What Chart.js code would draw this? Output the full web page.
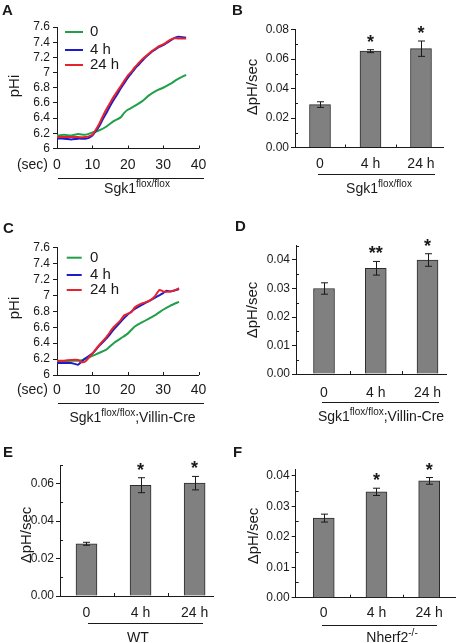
<!DOCTYPE html>
<html>
<head>
<meta charset="utf-8">
<script src="https://cdn.jsdelivr.net/npm/chart.js@4"></script>
<style>
  body { margin: 0; background: #fff; }
  #fig { position: relative; width: 458px; height: 643px; overflow: hidden; }
  .panel { position: absolute; }
</style>
</head>
<body>
<div id="fig">
  <div class="panel" style="left:0;top:0;width:229px;height:210px"><canvas id="cA"></canvas></div>
  <div class="panel" style="left:229px;top:0;width:229px;height:210px"><canvas id="cB"></canvas></div>
  <div class="panel" style="left:0;top:210px;width:229px;height:220px"><canvas id="cC"></canvas></div>
  <div class="panel" style="left:229px;top:210px;width:229px;height:220px"><canvas id="cD"></canvas></div>
  <div class="panel" style="left:0;top:430px;width:229px;height:213px"><canvas id="cE"></canvas></div>
  <div class="panel" style="left:229px;top:430px;width:229px;height:213px"><canvas id="cF"></canvas></div>
</div>
<script>
// datos de las curvas de pHi (tiempo en seg, pH)
const lineSeries = ['0', '4 h', '24 h'];
const lineColors = ['#1fa049', '#1c1ccc', '#e6232b'];

// A: Sgk1 flox/flox
const aTime0 = [0, 2, 4, 6, 8, 10, 12, 14, 16, 18, 19, 20, 22, 24, 26, 28, 30, 32, 34, 36.5];
const aPh0 = [6.17, 6.18, 6.17, 6.19, 6.18, 6.21, 6.24, 6.29, 6.36, 6.41, 6.47, 6.51, 6.56, 6.62, 6.70, 6.76, 6.80, 6.85, 6.91, 6.97];
const aTime = [0, 2, 4, 6, 8, 9, 10, 11, 12, 13, 14, 15, 16, 17, 18, 19, 20, 21, 22, 23, 24, 25, 26, 27, 28, 29, 30, 31, 32, 33, 34, 35, 36.5];
const aPh4 = [6.13, 6.13, 6.12, 6.13, 6.13, 6.14, 6.17, 6.23, 6.30, 6.39, 6.47, 6.56, 6.64, 6.71, 6.79, 6.86, 6.93, 6.99, 7.05, 7.10, 7.15, 7.20, 7.24, 7.28, 7.31, 7.34, 7.36, 7.39, 7.42, 7.45, 7.47, 7.47, 7.46];
const aPh24 = [6.15, 6.15, 6.15, 6.15, 6.15, 6.16, 6.18, 6.25, 6.33, 6.43, 6.52, 6.60, 6.68, 6.75, 6.82, 6.89, 6.96, 7.01, 7.07, 7.12, 7.17, 7.21, 7.25, 7.29, 7.32, 7.35, 7.37, 7.40, 7.43, 7.45, 7.45, 7.45, 7.45];

// C: Sgk1 flox/flox;Villin-Cre
const cTime0 = [0, 2, 4, 6, 8, 10, 12, 14, 16, 18, 20, 22, 24, 26, 28, 30, 32, 34.5];
const cPh0 = [6.17, 6.17, 6.18, 6.18, 6.20, 6.24, 6.28, 6.32, 6.40, 6.46, 6.52, 6.61, 6.66, 6.71, 6.76, 6.82, 6.87, 6.92];
const cTime4 = [0, 2, 4, 5, 6, 7, 8, 10, 12, 14, 16, 18, 20, 22, 24, 26, 28, 30, 31, 32, 33, 34.5];
const cPh4 = [6.15, 6.15, 6.15, 6.14, 6.13, 6.17, 6.21, 6.27, 6.37, 6.46, 6.57, 6.67, 6.76, 6.83, 6.88, 6.93, 6.98, 7.03, 7.06, 7.05, 7.06, 7.08];
const cTime24 = [0, 2, 4, 6, 7, 8, 9, 10, 12, 14, 16, 18, 19, 20, 21, 22, 24, 26, 27.5, 29, 30, 32, 33, 34.5];
const cPh24 = [6.18, 6.18, 6.19, 6.19, 6.16, 6.17, 6.22, 6.27, 6.38, 6.48, 6.60, 6.69, 6.75, 6.77, 6.79, 6.85, 6.90, 6.93, 6.98, 7.07, 7.05, 7.05, 7.06, 7.09];

const secTicks = [0, 10, 20, 30, 40];
const phTicks = [6, 6.2, 6.4, 6.6, 6.8, 7, 7.2, 7.4, 7.6];

// datos de barras (ΔpH/sec, media y error)
const barCats = ['0', '4 h', '24 h'];
const bMeans = [0.0291, 0.0653, 0.0670];
const bErr = [0.0019, 0.0010, 0.0052];
const bStars = ['', '*', '*'];
const dMeans = [0.0300, 0.0371, 0.0400];
const dErr = [0.0020, 0.0024, 0.0022];
const dStars = ['', '**', '*'];
const eMeans = [0.0279, 0.0592, 0.0603];
const eErr = [0.0008, 0.0040, 0.0036];
const eStars = ['', '*', '*'];
const fMeans = [0.0261, 0.0347, 0.0383];
const fErr = [0.0013, 0.0012, 0.0011];
const fStars = ['', '*', '*'];

const ink = '#1a1a1a';
const fam = '"Liberation Sans", Arial, Helvetica, sans-serif';
Chart.defaults.font.family = fam;
Chart.defaults.color = ink;
Chart.defaults.animation = false;

// Decoración de cada panel: letra, títulos, subrayado, leyenda, barras de error.
const panelDeco = {
  cA: { letter: 'A', letterAt: [2, 15], yTitle: 'pHi', yTitleAt: [15, 86], secAt: [48, 165],
        underline: [58, 204, 177.5], group: [['Sgk1', 0], ['flox/flox', 1]], groupAt: [137, 193],
        legend: { x1: 65, x2: 83, tx: 90, rows: [32, 50, 65] } },
  cC: { letter: 'C', letterAt: [3, 23], yTitle: 'pHi', yTitleAt: [15, 98], secAt: [48, 180],
        underline: [58, 204, 192.7], group: [['Sgk1', 0], ['flox/flox', 1], [';Villin-Cre', 0]], groupAt: [132.5, 211.5],
        legend: { x1: 66.7, x2: 81.7, tx: 90, rows: [47.7, 65, 80] } },
  cB: { letter: 'B', letterAt: [3, 15], yTitle: 'ΔpH/sec', yTitleAt: [24, 87],
        underline: [89, 206, 174.3], group: [['Sgk1', 0], ['flox/flox', 1]], groupAt: [150, 193],
        minorStep: 0.01, errs: bErr, stars: bStars },
  cD: { letter: 'D', letterAt: [6, 21], yTitle: 'ΔpH/sec', yTitleAt: [24, 100],
        underline: [93, 210, 192.3], group: [['Sgk1', 0], ['flox/flox', 1], [';Villin-Cre', 0]], groupAt: [152, 210.7],
        minorStep: 0.005, errs: dErr, stars: dStars },
  cE: { letter: 'E', letterAt: [3, 27], yTitle: 'ΔpH/sec', yTitleAt: [27, 105],
        underline: [88, 203, 193.3], group: [['WT', 0]], groupAt: [138, 211.5],
        minorStep: 0.01, errs: eErr, stars: eStars },
  cF: { letter: 'F', letterAt: [4, 27], yTitle: 'ΔpH/sec', yTitleAt: [25, 106],
        underline: [93, 208, 195], group: [['Nherf2', 0], ['-/-', 1]], groupAt: [163, 212],
        minorStep: 0.005, errs: fErr, stars: fStars }
};

const decoPlugin = {
  id: 'deco',
  afterDraw(chart) {
    const o = panelDeco[chart.canvas.id];
    if (!o) return;
    const ctx = chart.ctx, area = chart.chartArea;
    const xs = chart.scales.x, ys = chart.scales.y;
    ctx.save();
    ctx.fillStyle = ink;
    ctx.strokeStyle = ink;
    ctx.lineWidth = 1;

    // marcas interiores del eje x y marcas menores del eje y
    ctx.beginPath();
    const inMarks = o.errs ? [0.5, 1.5] : xs.ticks.map(t => t.value);
    inMarks.forEach(v => {
      const px = Math.round(xs.getPixelForValue(v)) + 0.5;
      ctx.moveTo(px, area.bottom);
      ctx.lineTo(px, area.bottom - 3);
    });
    if (o.minorStep) {
      for (let v = o.minorStep; v <= ys.max + 1e-9; v += 2 * o.minorStep) {
        const py = Math.round(ys.getPixelForValue(v)) + 0.5;
        ctx.moveTo(area.left, py);
        ctx.lineTo(area.left + 3, py);
      }
    }
    ctx.stroke();

    // barras de error y asteriscos
    if (o.errs) {
      const meta = chart.getDatasetMeta(0);
      const vals = chart.data.datasets[0].data;
      meta.data.forEach((el, i) => {
        const v = vals[i].y, e = o.errs[i];
        const x = Math.round(el.x) + 0.5;
        const yt = ys.getPixelForValue(v + e), yb = ys.getPixelForValue(v - e);
        ctx.beginPath();
        ctx.moveTo(x, yt); ctx.lineTo(x, yb);
        ctx.moveTo(x - 3.5, yt); ctx.lineTo(x + 3.5, yt);
        ctx.moveTo(x - 3.5, yb); ctx.lineTo(x + 3.5, yb);
        ctx.stroke();
        if (o.stars[i]) {
          ctx.font = 'bold 18px ' + fam;
          ctx.textAlign = 'center';
          ctx.textBaseline = 'alphabetic';
          ctx.fillText(o.stars[i], el.x, yt - 2);
        }
      });
    }

    // letra del panel
    ctx.font = 'bold 15px ' + fam;
    ctx.textAlign = 'left';
    ctx.textBaseline = 'alphabetic';
    ctx.fillText(o.letter, o.letterAt[0], o.letterAt[1]);

    // título del eje y
    ctx.save();
    ctx.translate(o.yTitleAt[0], o.yTitleAt[1]);
    ctx.rotate(-Math.PI / 2);
    ctx.font = '15px ' + fam;
    ctx.textAlign = 'center';
    ctx.textBaseline = 'middle';
    ctx.fillText(o.yTitle, 0, 0);
    ctx.restore();

    // "(sec)"
    if (o.secAt) {
      ctx.font = '14px ' + fam;
      ctx.textAlign = 'right';
      ctx.textBaseline = 'middle';
      ctx.fillText('(sec)', o.secAt[0], o.secAt[1]);
    }

    // línea bajo el grupo y nombre del genotipo
    const [u1, u2, uy] = o.underline;
    ctx.beginPath();
    ctx.moveTo(u1, Math.round(uy) + 0.5);
    ctx.lineTo(u2, Math.round(uy) + 0.5);
    ctx.stroke();
    ctx.textAlign = 'left';
    ctx.textBaseline = 'alphabetic';
    const fontOf = sup => (sup ? '10px ' : '14px ') + fam;
    let total = 0;
    o.group.forEach(([t, sup]) => { ctx.font = fontOf(sup); total += ctx.measureText(t).width; });
    let gx = o.groupAt[0] - total / 2;
    o.group.forEach(([t, sup]) => {
      ctx.font = fontOf(sup);
      ctx.fillText(t, gx, o.groupAt[1] - (sup ? 6 : 0));
      gx += ctx.measureText(t).width;
    });

    // leyenda
    if (o.legend) {
      const L = o.legend;
      chart.data.datasets.forEach((ds, i) => {
        ctx.strokeStyle = ds.borderColor;
        ctx.lineWidth = 2;
        ctx.beginPath();
        ctx.moveTo(L.x1, L.rows[i]);
        ctx.lineTo(L.x2, L.rows[i]);
        ctx.stroke();
        ctx.fillStyle = ink;
        ctx.font = '15px ' + fam;
        ctx.textBaseline = 'middle';
        ctx.fillText(ds.label, L.tx, L.rows[i]);
      });
    }
    ctx.restore();
  }
};

function lineChart(id, series, box) {
  return new Chart(document.getElementById(id), {
    type: 'line',
    data: {
      datasets: series.map((s, i) => ({
        label: lineSeries[i],
        data: s[0].map((t, j) => ({ x: t, y: s[1][j] })),
        borderColor: lineColors[i],
        borderWidth: 2,
        pointRadius: 0,
        tension: 0.2,
        fill: false,
        order: series.length - 1 - i
      }))
    },
    options: {
      responsive: true,
      maintainAspectRatio: false,
      layout: { padding: { left: 0, top: box.top, right: box.right, bottom: 0 } },
      plugins: { legend: { display: false }, tooltip: { enabled: false } },
      scales: {
        x: {
          type: 'linear', min: secTicks[0], max: secTicks[secTicks.length - 1],
          afterBuildTicks: s => { s.ticks = secTicks.map(v => ({ value: v })); },
          ticks: { padding: box.xPad, font: { size: 14 }, color: ink, maxRotation: 0, autoSkip: false },
          grid: { drawOnChartArea: false, drawTicks: false, color: ink },
          border: { color: ink },
          afterFit: s => { s.height = box.xH; }
        },
        y: {
          min: phTicks[0], max: phTicks[phTicks.length - 1],
          afterBuildTicks: s => { s.ticks = phTicks.map(v => ({ value: v })); },
          ticks: { padding: 3, font: { size: 12 }, color: ink, autoSkip: false,
                   callback: v => String(+v.toFixed(1)) },
          grid: { drawOnChartArea: false, tickLength: 4, color: ink },
          border: { color: ink },
          afterFit: s => { s.width = box.yW; }
        }
      }
    },
    plugins: [decoPlugin]
  });
}

function barChart(id, means, box) {
  return new Chart(document.getElementById(id), {
    type: 'bar',
    data: {
      datasets: [{
        data: means.map((v, i) => ({ x: i, y: v })),
        backgroundColor: '#808080',
        borderColor: '#2b2b2b',
        borderWidth: 1,
        barThickness: 21
      }]
    },
    options: {
      responsive: true,
      maintainAspectRatio: false,
      layout: { padding: { left: 0, top: box.top, right: box.right, bottom: 0 } },
      plugins: { legend: { display: false }, tooltip: { enabled: false } },
      scales: {
        x: {
          type: 'linear', min: box.xr[0], max: box.xr[1], offset: false,
          afterBuildTicks: s => { s.ticks = barCats.map((c, i) => ({ value: i })); },
          ticks: { padding: box.xPad, font: { size: 14 }, color: ink, maxRotation: 0, autoSkip: false,
                   callback: v => barCats[v] },
          grid: { drawOnChartArea: false, drawTicks: false, offset: false, color: ink },
          border: { color: ink },
          afterFit: s => { s.height = box.xH; }
        },
        y: {
          min: 0, max: box.yMax,
          ticks: { stepSize: box.step, includeBounds: false, autoSkip: false, padding: 2,
                   font: { size: 12 }, color: ink, callback: v => v.toFixed(2) },
          grid: { drawOnChartArea: false, tickLength: 4, color: ink },
          border: { color: ink },
          afterFit: s => { s.width = box.yW; }
        }
      }
    },
    plugins: [decoPlugin]
  });
}

lineChart('cA', [[aTime0, aPh0], [aTime, aPh4], [aTime, aPh24]],
  { top: 27, right: 30.5, yW: 57, xH: 61.5, xPad: 8 });
lineChart('cC', [[cTime0, cPh0], [cTime4, cPh4], [cTime24, cPh24]],
  { top: 37.7, right: 30.5, yW: 57, xH: 55, xPad: 6.6 });

barChart('cB', bMeans, { top: 29.5, right: 15, yW: 66, xH: 62.5, xPad: 8, xr: [-0.495, 2.436], yMax: 0.08, step: 0.02 });
barChart('cD', dMeans, { top: 35.75, right: 12, yW: 67, xH: 56, xPad: 10.3, xr: [-0.541, 2.357], yMax: 0.045, step: 0.01 });
barChart('cE', eMeans, { top: 35, right: 16, yW: 60, xH: 47, xPad: 8.3, xr: [-0.49, 2.34], yMax: 0.07, step: 0.02 });
barChart('cF', fMeans, { top: 39.6, right: 3, yW: 66.7, xH: 45.3, xPad: 6.6, xr: [-0.532, 2.49], yMax: 0.042, step: 0.01 });
</script>
</body>
</html>
